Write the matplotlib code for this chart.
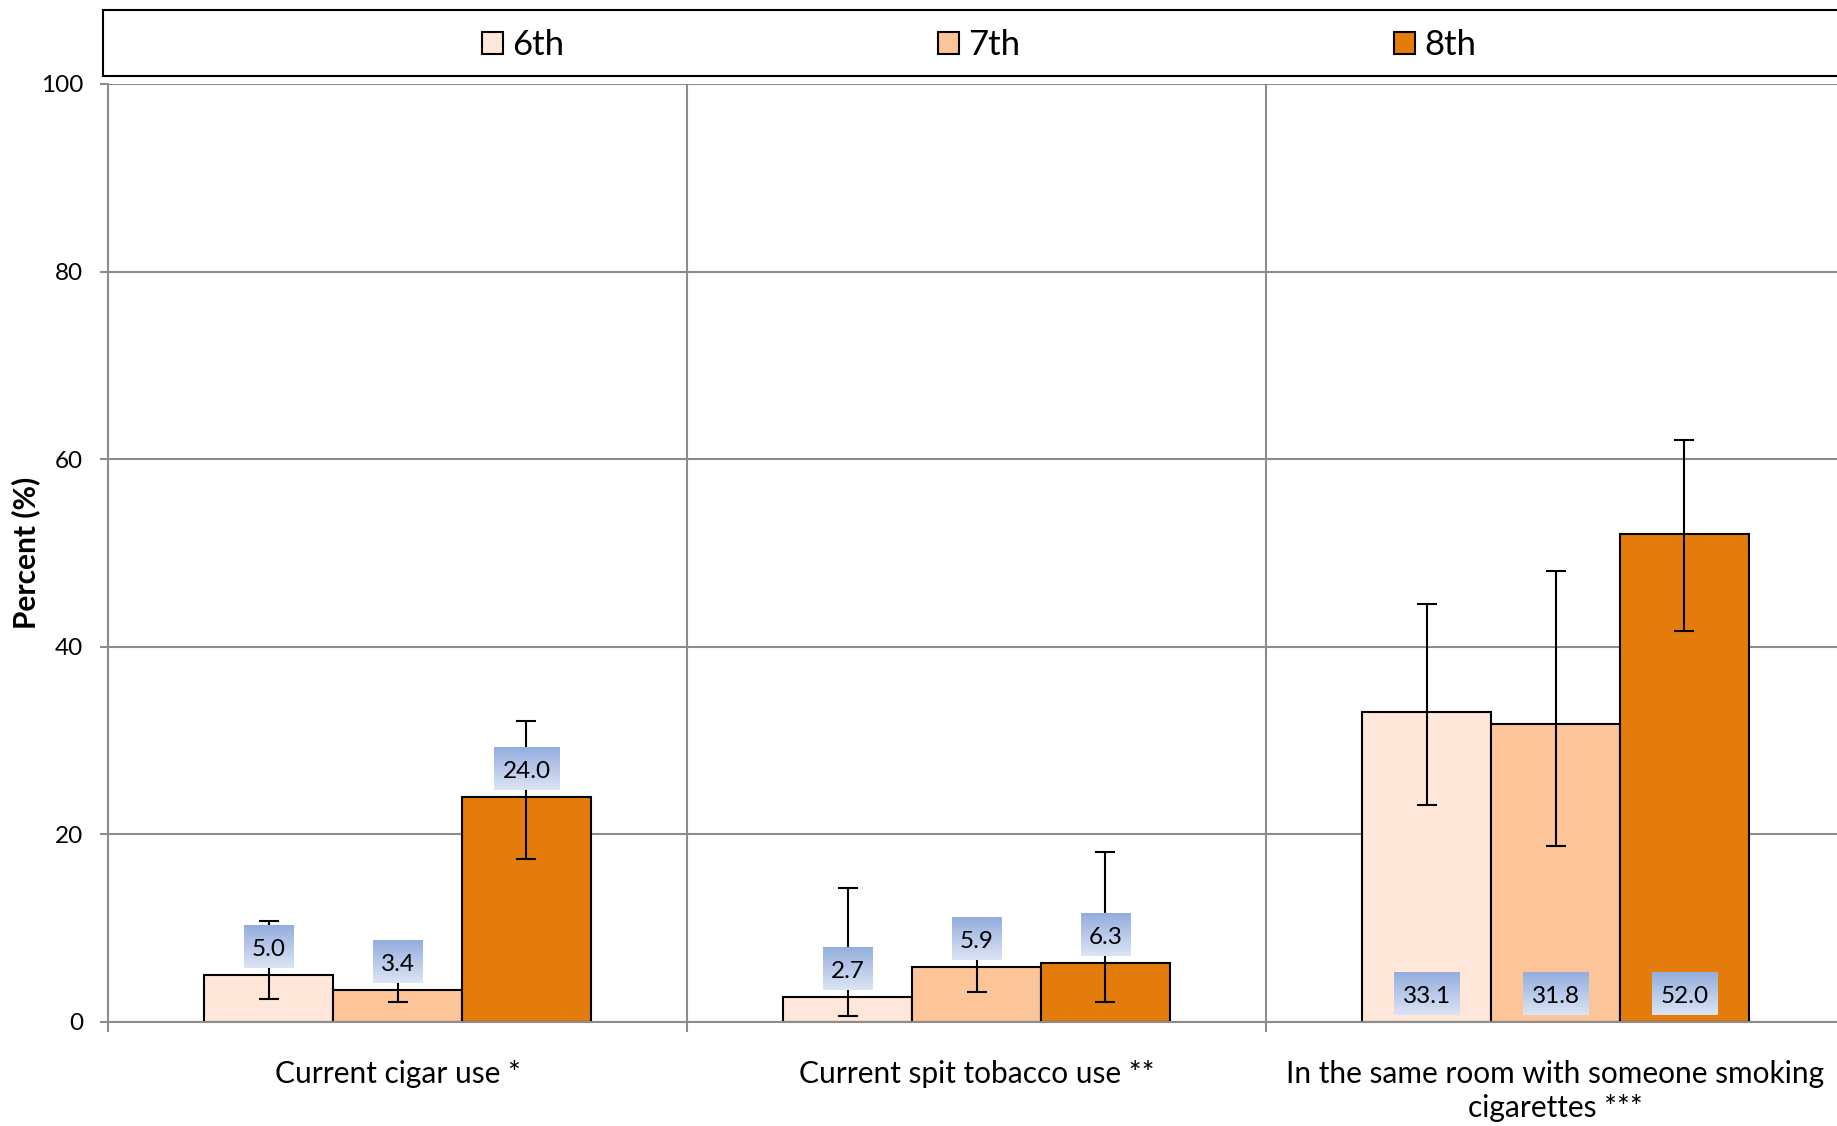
import numpy as np
import matplotlib
matplotlib.use("Agg")
from matplotlib import pyplot as plt
from matplotlib.colors import LinearSegmentedColormap
from matplotlib.patches import Rectangle

plt.rcParams['font.family'] = ['Lato', 'DejaVu Sans']

# data
categories = ["Current cigar use *", "Current spit tobacco use **",
              "In the same room with someone smoking\ncigarettes ***"]
grades = ["6th", "7th", "8th"]
values = [[5.0, 2.7, 33.1],     # 6th
          [3.4, 5.9, 31.8],     # 7th
          [24.0, 6.3, 52.0]]    # 8th
err_low = [[2.4, 0.6, 23.1],
           [2.1, 3.2, 18.8],
           [17.4, 2.1, 41.7]]
err_high = [[10.8, 14.3, 44.6],
            [5.5, 8.8, 48.1],
            [32.1, 18.1, 62.0]]
label_at_base = [False, False, True]

colors = ["#FEE6D9", "#FCC499", "#E37C0B"]
grid_col = "#8C8C8C"

fig = plt.figure(figsize=(18.37, 11.26), dpi=100)
ax = fig.add_axes([108 / 1837, 104 / 1126, 1737 / 1837, 938 / 1126])

x = np.arange(len(categories))
width = 0.2227
offsets = [-width, 0, width]

blue = LinearSegmentedColormap.from_list("lbl", ["#DCE4F4", "#93AEDD"])
grad = np.linspace(0, 1, 64).reshape(-1, 1)

handles = []
for i, g in enumerate(grades):
    vals = np.array(values[i])
    lo = vals - np.array(err_low[i])
    hi = np.array(err_high[i]) - vals
    b = ax.bar(x + offsets[i], vals, width, color=colors[i], edgecolor="black",
               linewidth=1.5, label=g, zorder=2)
    handles.append(b)
    ax.errorbar(x + offsets[i], vals, yerr=[lo, hi], fmt="none", ecolor="black",
                elinewidth=1.5, capsize=7, capthick=1.5, zorder=3)
    # value labels in gradient boxes
    for j, v in enumerate(vals):
        s = f"{v:.1f}"
        yc = 3.0 if label_at_base[j] else v + 3.0
        w = 0.0283 * len(s)
        xc = x[j] + offsets[i]
        ax.imshow(grad, extent=[xc - w / 2, xc + w / 2, yc - 2.25, yc + 2.25],
                  aspect="auto", cmap=blue, origin="lower", zorder=4)
        ax.text(xc, yc - 0.3, s, ha="center", va="center", fontsize=17.5, zorder=5)

ax.set_xlim(-0.5, 2.5)
ax.set_ylim(0, 100)
ax.set_yticks(np.arange(0, 101, 20))
ax.set_xticks(x)
ax.set_xticklabels(categories, fontsize=21.5, linespacing=1.3)
ax.set_xticks([-0.5, 0.5, 1.5, 2.5], minor=True)
ax.tick_params(axis="x", which="major", length=0, pad=27)
ax.tick_params(axis="x", which="minor", length=7, width=1.5, color=grid_col)
ax.tick_params(axis="y", length=6, width=1.5, color=grid_col, labelsize=17.5, pad=12)

ax.grid(axis="y", color=grid_col, linewidth=1.5, zorder=0)
ax.grid(axis="x", which="minor", color=grid_col, linewidth=1.5, zorder=0)
ax.set_axisbelow(True)
for sp in ["top", "right"]:
    ax.spines[sp].set_visible(False)
for sp in ["left", "bottom"]:
    ax.spines[sp].set_color(grid_col)
    ax.spines[sp].set_linewidth(1.5)

ax.set_ylabel("Percent (%)", fontsize=21.5, fontweight="bold")
ax.yaxis.set_label_coords(-0.039, 0.5)

# legend box across the top
fig.patches.append(Rectangle((103 / 1837, 1 - 76 / 1126), 0.96, 66 / 1126,
                             transform=fig.transFigure, facecolor="white",
                             edgecolor="black", linewidth=1.5))
fig.legend(handles=handles, labels=grades, loc="center", ncol=3,
           bbox_to_anchor=(0.533, 1 - 45 / 1126), frameon=False, fontsize=25,
           handlelength=0.61, handleheight=0.61, handletextpad=0.27,
           columnspacing=10.75)

fig.savefig("out.png", dpi=100)
